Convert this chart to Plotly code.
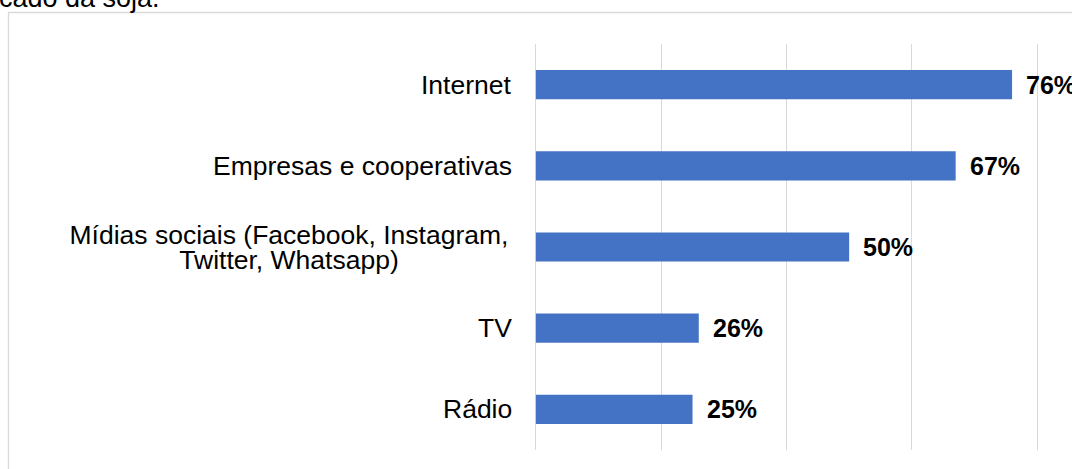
import plotly.graph_objects as go

categories = ["Internet", "Empresas e cooperativas",
              "Mídias sociais (Facebook, Instagram,<br>Twitter, Whatsapp)",
              "TV", "Rádio"]
values = [76, 67, 50, 26, 25]
value_labels = ["76%", "67%", "50%", "26%", "25%"]
top_text = "cado da soja."

BAR = "#4472C4"
FONT = "Liberation Sans, Arial, sans-serif"
W, H = 1072, 469
L, R, T, B = 534, 33, 44, 19
pw, ph = W - L - R, H - T - B
LABEL_SIZE = 26.5

fig = go.Figure()
fig.add_trace(go.Bar(
    x=values, y=categories, orientation="h",
    marker=dict(color=BAR, line=dict(width=0)),
    width=0.36, hoverinfo="skip",
))

ann = []
for cat, v, lab in zip(categories, values, value_labels):
    lines = cat.split("<br>")
    n = len(lines)
    for i, line in enumerate(lines):
        a = dict(
            x=0, y=cat, xref="x", yref="y", text=line, showarrow=False,
            xanchor="right", yanchor="middle", xshift=-22,
            yshift=(n - 1) * 12.5 - i * 25,
            font=dict(family=FONT, size=LABEL_SIZE, color="#000000"),
        )
        if n > 1:
            a["width"] = 446
            a["align"] = "center"
        ann.append(a)
    ann.append(dict(
        x=v, y=cat, xref="x", yref="y", text="<b>%s</b>" % lab, showarrow=False,
        xanchor="left", yanchor="middle", xshift=12,
        font=dict(family=FONT, size=25, color="#000000"),
    ))

# clipped caption text at the very top
ann.append(dict(
    x=(0 - L - 3) / pw, y=(H - B - 15) / ph, xref="paper", yref="paper",
    text=top_text, showarrow=False, xanchor="left", yanchor="bottom",
    font=dict(family=FONT, size=27, color="#000000"),
))

fig.update_layout(
    width=W, height=H,
    margin=dict(l=L, r=R, t=T, b=B, pad=0),
    paper_bgcolor="white", plot_bgcolor="white",
    showlegend=False,
    xaxis=dict(range=[-0.3, 80.3], dtick=20, tick0=0, showgrid=True,
               gridcolor="#d9d9d9", gridwidth=1.3, showticklabels=False,
               zeroline=False, showline=False, ticks="", fixedrange=True),
    yaxis=dict(autorange="reversed", showticklabels=False, showgrid=False,
               zeroline=False, showline=False, ticks="", fixedrange=True),
    annotations=ann,
    shapes=[dict(type="rect", xref="paper", yref="paper",
                 x0=(8.5 - L) / pw, x1=(W + 20 - L) / pw,
                 y0=(H - B - (H + 20)) / ph, y1=(H - B - 12.5) / ph,
                 line=dict(color="#d9d9d9", width=1.3), fillcolor="rgba(0,0,0,0)",
                 layer="below")],
)

fig.write_html("out.html")
